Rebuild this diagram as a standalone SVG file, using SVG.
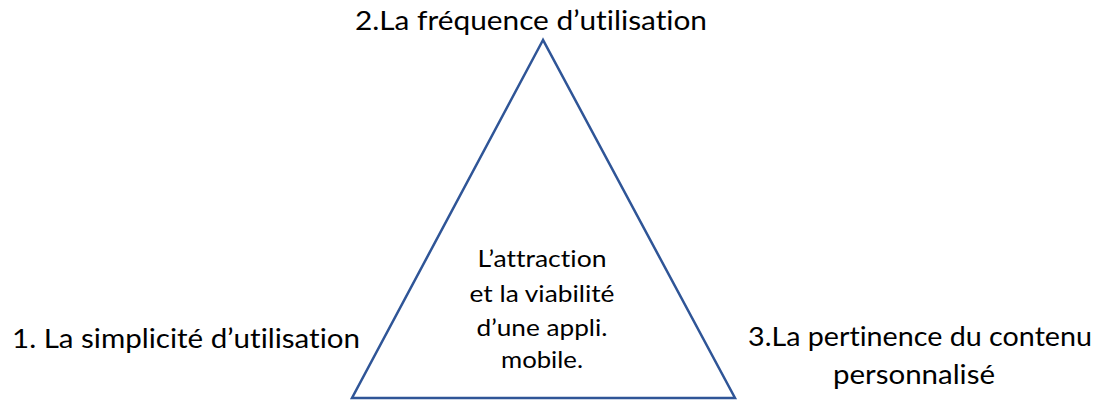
<svg xmlns="http://www.w3.org/2000/svg" width="1095" height="402" viewBox="0 0 1095 402">
<style>
.t{font-family:Lato,"Open Sans","Liberation Sans",sans-serif;fill:#000;font-size:27.5px;font-variant-ligatures:none}
.c{font-family:Lato,"Open Sans","Liberation Sans",sans-serif;fill:#000;font-size:23px;text-anchor:middle;font-variant-ligatures:none}
.tri{fill:#fff;stroke:#2F5597;stroke-width:2.5}
</style>
<rect width="1095" height="402" fill="#fff"/>
<g id="triangle">
<polygon class="tri" points="543,40 352,398 735,398"/>
<text class="c" x="542" y="267" textLength="129" lengthAdjust="spacingAndGlyphs">L’attraction</text>
<text class="c" x="542" y="302" textLength="145" lengthAdjust="spacingAndGlyphs">et la viabilité</text>
<text class="c" x="542" y="336" textLength="131" lengthAdjust="spacingAndGlyphs">d’une appli.</text>
<text class="c" x="542" y="368" textLength="82" lengthAdjust="spacingAndGlyphs">mobile.</text>
</g>
<g id="label-top">
<text class="t" x="355" y="30" textLength="352" lengthAdjust="spacingAndGlyphs">2.La fréquence d’utilisation</text>
</g>
<g id="label-left">
<text class="t" x="12" y="348" textLength="348" lengthAdjust="spacingAndGlyphs">1. La simplicité d’utilisation</text>
</g>
<g id="label-right">
<text class="t" x="748" y="346" textLength="344" lengthAdjust="spacingAndGlyphs">3.La pertinence du contenu</text>
<text class="t" x="914" y="384" text-anchor="middle" textLength="162" lengthAdjust="spacingAndGlyphs">personnalisé</text>
</g>
<g id="connectors"></g>
</svg>
